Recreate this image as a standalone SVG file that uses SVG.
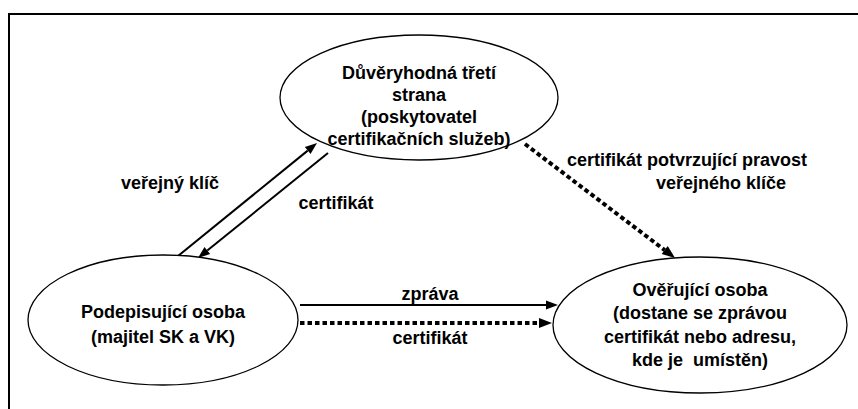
<svg xmlns="http://www.w3.org/2000/svg" width="858" height="409" viewBox="0 0 858 409">
<style>
text{font-family:"Liberation Sans",Arial,sans-serif;font-weight:bold;font-size:18px;fill:#000}
.c{text-anchor:middle}
.node ellipse{fill:#fff;stroke:#000;stroke-width:1.3}
.solid{stroke:#000;stroke-width:2;fill:none}
.dot{stroke:#000;stroke-width:4;stroke-dasharray:4.5 3;fill:none}
</style>
<defs>
<marker id="ah" markerUnits="userSpaceOnUse" markerWidth="13" markerHeight="10" refX="0" refY="4.5" orient="auto" overflow="visible">
<path d="M0,0 L12,4.5 L0,9 z" fill="#000"/>
</marker>
<marker id="ahd" markerUnits="userSpaceOnUse" markerWidth="14" markerHeight="11" refX="0" refY="5" orient="auto" overflow="visible">
<path d="M0,0 L13,5 L0,10 z" fill="#000"/>
</marker>
</defs>
<rect width="858" height="409" fill="#fff"/>
<path d="M9,409 V14 H858" fill="none" stroke="#000" stroke-width="2"/>
<g id="connectors">
<line class="solid" x1="178" y1="256" x2="307.7" y2="150.6" marker-end="url(#ah)"/>
<line class="solid" x1="328" y1="153" x2="207.3" y2="250.5" marker-end="url(#ah)"/>
<line class="dot" x1="525" y1="144" x2="664.7" y2="250.1" marker-end="url(#ahd)"/>
<line class="solid" x1="300" y1="305" x2="546" y2="305" marker-end="url(#ah)"/>
<line class="dot" x1="300" y1="323" x2="539" y2="323" marker-end="url(#ahd)"/>
<text x="170" y="189" class="c">veřejný klíč</text>
<text x="336" y="209" class="c">certifikát</text>
<text x="567" y="166">certifikát potvrzující pravost</text>
<text x="656" y="189">veřejného klíče</text>
<text x="430" y="300" class="c">zpráva</text>
<text x="430" y="344" class="c">certifikát</text>
</g>
<g id="ttp" class="node">
<ellipse cx="419" cy="97.5" rx="139" ry="62.5"/>
<text x="419" y="79" class="c">Důvěryhodná třetí</text>
<text x="419" y="101" class="c">strana</text>
<text x="419" y="123" class="c">(poskytovatel</text>
<text x="419" y="145" class="c">certifikačních služeb)</text>
</g>
<g id="signer" class="node">
<ellipse cx="163" cy="320" rx="135" ry="65"/>
<text x="163" y="318" class="c">Podepisující osoba</text>
<text x="163" y="343" class="c">(majitel SK a VK)</text>
</g>
<g id="verifier" class="node">
<ellipse cx="700" cy="325" rx="147" ry="68"/>
<text x="700" y="296" class="c">Ověřující osoba</text>
<text x="700" y="319" class="c">(dostane se zprávou</text>
<text x="700" y="343" class="c">certifikát nebo adresu,</text>
<text x="700" y="366" class="c">kde je&#160; umístěn)</text>
</g>
</svg>
